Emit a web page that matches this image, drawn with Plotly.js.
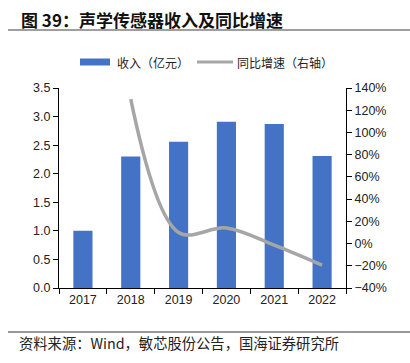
<!DOCTYPE html>
<html><head><meta charset="utf-8">
<script src="https://cdn.plot.ly/plotly-3.0.1.min.js"></script>
<style>html,body{margin:0;padding:0;background:#fff}#c{width:410px;height:363px}</style>
</head><body><div id="c"></div>
<script>
const years = ['2017','2018','2019','2020','2021','2022'];
const revenue = [1.00, 2.30, 2.56, 2.91, 2.87, 2.31];
const growthYears = ['2018','2019','2020','2021','2022'];
const growth = [130, 10, 14, -1.5, -19.5];
const revName = '收入（亿元）';
const growthName = '同比增速（右轴）';
const titleText = '图 39：声学传感器收入及同比增速';
const sourceText = '资料来源：Wind，敏芯股份公告，国海证券研究所';

const L = 59, R = 346, T = 88, B = 288;
const px = x => (x - L) / (R - L);
const py = y => (B - y) / (B - T);

const cjk = '"Liberation Sans", "Noto Sans CJK SC", Arial, sans-serif';
const barColor = '#4472C4', lineColor = '#A6A6A6';

const data = [
  {type:'bar', x: years, y: revenue, name: revName, marker:{color:barColor}, width:0.4},
  {type:'scatter', mode:'lines', x: growthYears, y: growth, name: growthName, yaxis:'y2',
   line:{color:lineColor, width:3.5, shape:'spline', smoothing:1}}
];

const layout = {
  width:410, height:363,
  margin:{l:L, r:410-R, t:T, b:363-B, pad:0},
  paper_bgcolor:'#fff', plot_bgcolor:'#fff',
  font:{family:cjk, size:12, color:'#222'},
  showlegend:false,
  xaxis:{type:'category', range:[-0.5,5.5], showline:true, linecolor:'#000', linewidth:1,
         ticks:'outside', tickson:'boundaries', ticklen:5, tickcolor:'#000',
         tickfont:{size:12.5}, showgrid:false, zeroline:false},
  yaxis:{range:[0,3.5], dtick:0.5, tickformat:'.1f', showline:true, linecolor:'#000',
         ticks:'outside', ticklen:5, tickcolor:'#000', showgrid:false, zeroline:false,
         tickfont:{size:12.5}},
  yaxis2:{range:[-40,140], dtick:20, ticksuffix:'%', overlaying:'y', side:'right',
          showline:true, linecolor:'#000', ticks:'outside', ticklen:5, tickcolor:'#000',
          showgrid:false, zeroline:false, tickfont:{size:12.5}},
  shapes:[
    {type:'line', xref:'paper', yref:'paper', x0:px(8), x1:px(410), y0:py(30), y1:py(30),
     line:{color:'#7f7f7f', width:1.5}},
    {type:'line', xref:'paper', yref:'paper', x0:px(8), x1:px(410), y0:py(332), y1:py(332),
     line:{color:'#333', width:1}},
    {type:'rect', xref:'paper', yref:'paper', x0:px(80), x1:px(110), y0:py(58.5), y1:py(65.5),
     fillcolor:barColor, line:{width:0}},
    {type:'line', xref:'paper', yref:'paper', x0:px(197), x1:px(233), y0:py(62), y1:py(62),
     line:{color:lineColor, width:3}}
  ],
  annotations:[
    {text:'<b>'+titleText+'</b>', xref:'paper', yref:'paper', x:px(19), y:py(19),
     xanchor:'left', yanchor:'middle', showarrow:false,
     font:{size:17, family:'"Noto Sans CJK SC", sans-serif', color:'#111'}},
    {text:revName, xref:'paper', yref:'paper', x:px(115), y:py(62),
     xanchor:'left', yanchor:'middle', showarrow:false,
     font:{size:12, family:'"Noto Sans CJK SC", sans-serif', color:'#222'}},
    {text:growthName, xref:'paper', yref:'paper', x:px(235), y:py(62),
     xanchor:'left', yanchor:'middle', showarrow:false,
     font:{size:12, family:'"Noto Sans CJK SC", sans-serif', color:'#222'}},
    {text:sourceText, xref:'paper', yref:'paper', x:px(17), y:py(342),
     xanchor:'left', yanchor:'middle', showarrow:false,
     font:{size:14.3, family:'"Noto Sans CJK SC", sans-serif', color:'#222'}}
  ]
};

Plotly.newPlot('c', data, layout, {displayModeBar:false, staticPlot:true});
</script></body></html>
